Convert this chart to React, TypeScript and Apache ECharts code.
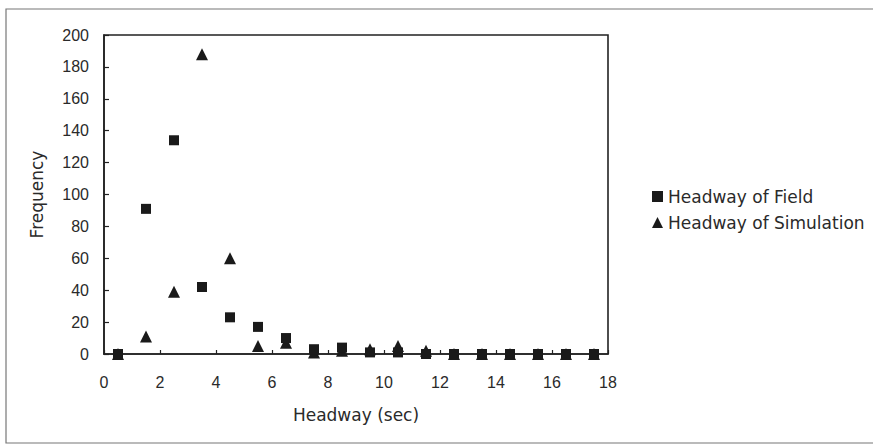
import React, { useEffect, useRef } from "react";
import * as echarts from "echarts";

const headwayBins = [0.5, 1.5, 2.5, 3.5, 4.5, 5.5, 6.5, 7.5, 8.5, 9.5, 10.5, 11.5, 12.5, 13.5, 14.5, 15.5, 16.5, 17.5];
const fieldFreq = [0, 91, 134, 42, 23, 17, 10, 3, 4, 1, 1, 0, 0, 0, 0, 0, 0, 0];
const simFreq = [0, 11, 39, 188, 60, 5, 7, 1, 2, 3, 5, 2, 0, 0, 0, 0, 0, 0];
const seriesNames = ["Headway of Field", "Headway of Simulation"];
const xTitle = "Headway (sec)";
const yTitle = "Frequency";

export default function App() {
  const ref = useRef<HTMLDivElement>(null);
  useEffect(() => {
    if (!ref.current) return;
    const chart = echarts.init(ref.current, null, { renderer: "svg" });
    const ink = "#222";
    const titleFont = "DejaVu Sans";
    const numFont = "Liberation Sans";
    chart.setOption({
      animation: false,
      backgroundColor: "#ffffff",
      grid: {
        left: 104,
        top: 35,
        right: 265,
        bottom: 93,
        show: true,
        borderColor: ink,
        borderWidth: 1.6,
        backgroundColor: "transparent",
      },
      xAxis: {
        type: "value",
        min: 0,
        max: 18,
        interval: 2,
        name: xTitle,
        nameLocation: "middle",
        nameGap: 52,
        nameTextStyle: { fontFamily: titleFont, fontSize: 17, color: "#2a2a2a" },
        axisLine: { show: true, lineStyle: { color: ink, width: 1.6 } },
        axisTick: { show: true, inside: true, length: 4, lineStyle: { color: ink, width: 1.2 } },
        axisLabel: { margin: 20, fontFamily: numFont, fontSize: 16, color: "#2a2a2a" },
        splitLine: { show: false },
      },
      yAxis: {
        type: "value",
        min: 0,
        max: 200,
        interval: 20,
        name: yTitle,
        nameLocation: "middle",
        nameGap: 59,
        nameRotate: 90,
        nameTextStyle: { fontFamily: titleFont, fontSize: 17, color: "#2a2a2a" },
        axisLine: { show: true, lineStyle: { color: ink, width: 1.6 } },
        axisTick: { show: true, inside: true, length: 5, lineStyle: { color: ink, width: 1.2 } },
        axisLabel: { margin: 15, fontFamily: numFont, fontSize: 16, color: "#2a2a2a" },
        splitLine: { show: false },
      },
      legend: {
        orient: "vertical",
        left: 647,
        top: 183,
        itemWidth: 11,
        itemHeight: 11,
        itemGap: 9,
        data: seriesNames,
        textStyle: { fontFamily: titleFont, fontSize: 17, color: "#2a2a2a", lineHeight: 17 },
      },
      graphic: [
        {
          type: "rect",
          shape: { x: 6, y: 9, width: 900, height: 434 },
          style: { fill: "none", stroke: "#777", lineWidth: 1.2 },
          silent: true,
        },
      ],
      series: [
        {
          name: seriesNames[1],
          type: "scatter",
          symbol: "triangle",
          symbolSize: 12,
          z: 2,
          itemStyle: { color: "#1a1a1a", opacity: 1 },
          data: headwayBins.map((x, i) => [x, simFreq[i]]),
        },
        {
          name: seriesNames[0],
          type: "scatter",
          symbol: "rect",
          symbolSize: 10,
          z: 3,
          itemStyle: { color: "#1a1a1a", opacity: 1 },
          data: headwayBins.map((x, i) => [x, fieldFreq[i]]),
        },
      ],
    });
    return () => chart.dispose();
  }, []);
  return (
    <div
      ref={ref}
      style={{ position: "fixed", left: 0, top: 0, width: 873, height: 447 }}
    />
  );
}
